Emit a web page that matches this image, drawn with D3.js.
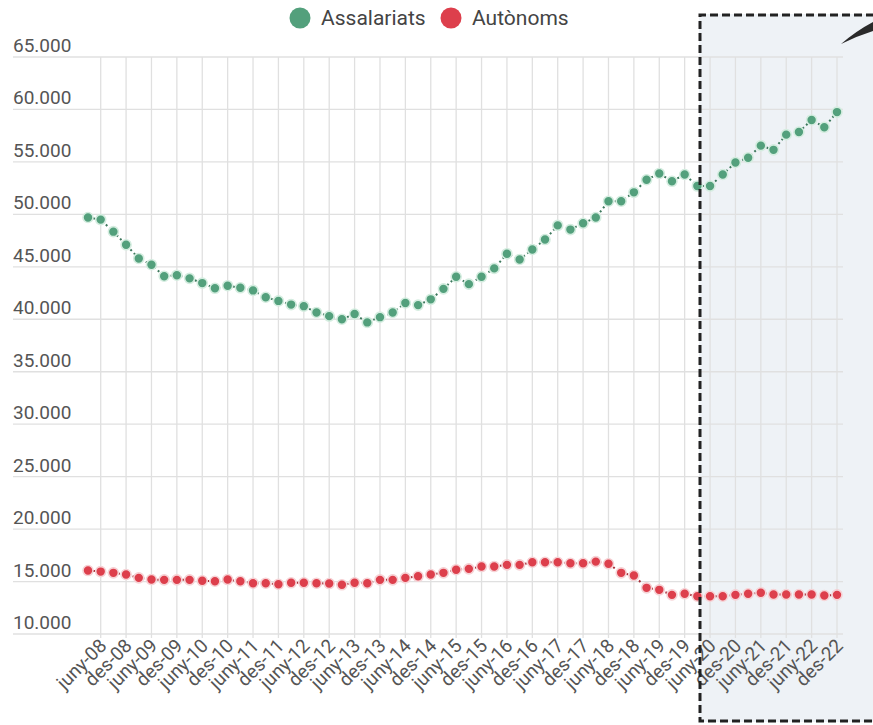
<!DOCTYPE html>
<html><head><meta charset="utf-8">
<script src="https://cdn.jsdelivr.net/npm/d3@7"></script>
<style>
html,body{margin:0;padding:0;background:#fff;}
svg{display:block;font-family:Roboto,"Open Sans",sans-serif;}
</style></head>
<body><svg id="c" width="873" height="725"></svg>
<script>
const categories = [
 "març-08","juny-08","set-08","des-08","març-09","juny-09","set-09","des-09",
 "març-10","juny-10","set-10","des-10","març-11","juny-11","set-11","des-11",
 "març-12","juny-12","set-12","des-12","març-13","juny-13","set-13","des-13",
 "març-14","juny-14","set-14","des-14","març-15","juny-15","set-15","des-15",
 "març-16","juny-16","set-16","des-16","març-17","juny-17","set-17","des-17",
 "març-18","juny-18","set-18","des-18","març-19","juny-19","set-19","des-19",
 "març-20","juny-20","set-20","des-20","març-21","juny-21","set-21","des-21",
 "març-22","juny-22","set-22","des-22"];
const tickLabels = categories.filter(c => c.startsWith("juny") || c.startsWith("des"));
const assalariats = [49700,49500,48350,47100,45800,45200,44100,44200,43900,43450,
 42950,43200,43000,42750,42100,41750,41400,41250,40650,40300,
 40000,40500,39700,40200,40650,41550,41350,41900,42900,44050,
 43350,44050,44850,46250,45700,46650,47600,48950,48550,49150,
 49700,51250,51250,52100,53300,53900,53150,53800,52700,52700,
 53800,54950,55400,56550,56150,57600,57850,59000,58300,59750];
const autonoms = [16050,15950,15830,15670,15350,15190,15160,15160,15160,15070,
 15030,15190,15030,14840,14840,14740,14880,14880,14840,14810,
 14690,14880,14840,15160,15160,15350,15500,15670,15830,16130,
 16210,16430,16430,16590,16590,16840,16840,16840,16740,16740,
 16900,16690,15830,15570,14400,14210,13730,13830,13600,13600,
 13600,13730,13830,13930,13760,13760,13760,13760,13670,13730];
const yTicks = [10000,15000,20000,25000,30000,35000,40000,45000,50000,55000,60000,65000];
const seriesNames = ["Assalariats","Autònoms"];
const seriesColors = ["#53a07c","#dd3f4c"];
const haloColors = ["#d5ede0","#f6d3d6"];

const svg = d3.select("#c");
const loc = d3.formatLocale({decimal:",",thousands:".",grouping:[3],currency:["","€"]});
const yfmt = loc.format(",");

const x = d3.scalePoint().domain(categories).range([88, 837]);
const y = d3.scaleLinear().domain([10000, 65000]).range([634, 57]);

// highlight box background
svg.append("rect").attr("x",699).attr("y",14).attr("width",200).attr("height",708)
  .attr("fill","#eef2f6");

// horizontal grid
svg.append("g").selectAll("line").data(yTicks).join("line")
  .attr("x1",13).attr("x2",843).attr("y1",d=>y(d)).attr("y2",d=>y(d))
  .attr("stroke","#e0e0e0").attr("stroke-width",1.3);
// vertical grid
svg.append("g").selectAll("line").data(tickLabels).join("line")
  .attr("x1",d=>x(d)).attr("x2",d=>x(d)).attr("y1",57).attr("y2",638)
  .attr("stroke","#e0e0e0").attr("stroke-width",1.3);

// y labels
svg.append("g").selectAll("text").data(yTicks).join("text")
  .attr("x",13).attr("y",d=>y(d)-5)
  .attr("font-size",19).attr("fill","#555")
  .text(d=>yfmt(d));

// x labels
svg.append("g").selectAll("text").data(tickLabels).join("text")
  .attr("transform",d=>`translate(${x(d)+7},${647}) rotate(-45)`)
  .attr("text-anchor","end").attr("font-size",19).attr("fill","#555")
  .text(d=>d);

// series
[assalariats, autonoms].forEach((vals, si) => {
  const pts = vals.map((v,i)=>[x(categories[i]), y(v)]);
  svg.append("path").attr("d", d3.line()(pts)).attr("fill","none")
    .attr("stroke", d3.color(seriesColors[si]).darker(0.8)).attr("stroke-width",2)
    .attr("stroke-dasharray","2,3");
  svg.append("g").selectAll("circle").data(pts).join("circle")
    .attr("cx",d=>d[0]).attr("cy",d=>d[1]).attr("r",5)
    .attr("fill",seriesColors[si]).attr("stroke",haloColors[si]).attr("stroke-width",1.6);
});

// dashed box border
svg.append("path").attr("d","M874,15 L700,15 L700,721 L874,721")
  .attr("fill","none").attr("stroke","#222").attr("stroke-width",3).attr("stroke-dasharray","8,4");

// arrow
svg.append("path").attr("d","M841,44 Q856,31 873,22 L873,31 Q857,36 841,44 Z").attr("fill","#2a2a2a");

// legend
const legX = [300, 451];
seriesNames.forEach((n,i)=>{
  svg.append("circle").attr("cx",legX[i]).attr("cy",18).attr("r",10.5).attr("fill",seriesColors[i]);
  svg.append("text").attr("x",legX[i]+21).attr("y",25).attr("font-size",21).attr("fill","#444").text(n);
});
</script></body></html>
